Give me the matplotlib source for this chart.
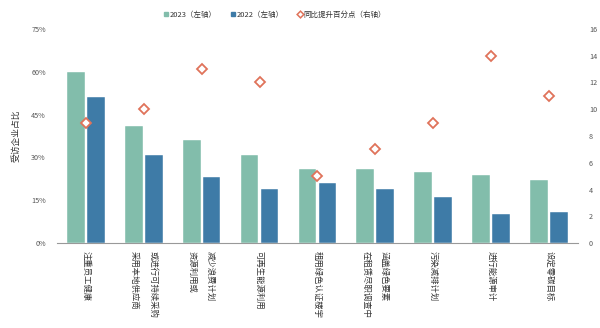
import numpy as np
import matplotlib
matplotlib.use('Agg')
import matplotlib.pyplot as plt
from matplotlib.ticker import FuncFormatter
from matplotlib.lines import Line2D

plt.rcParams['font.family'] = ['Noto Sans CJK SC', 'DejaVu Sans']

# 各类别（多行标签按行拆分）
labels = [["注重员工健康"],
          ["采用本地供应商", "或进行可持续采购"],
          ["资源利用或", "减少浪费计划"],
          ["可再生能源利用"],
          ["租用绿色认证楼宇"],
          ["在租赁尽职调查中", "涵盖绿色要素"],
          ["污染减排计划"],
          ["进行能源审计"],
          ["设定零碳目标"]]
v2023 = [60, 41, 36, 31, 26, 26, 25, 24, 22]
v2022 = [51, 31, 23, 19, 21, 19, 16, 10, 11]
diff = [9, 10, 13, 12, 5, 7, 9, 14, 11]

C23 = '#82bdab'
C22 = '#3e7ba7'
CD = '#e0735a'

fig = plt.figure(figsize=(6, 3.28), dpi=100)
ax = fig.add_axes([0.095, 0.259, 0.868, 0.653])
ax2 = ax.twinx()

x = np.arange(len(labels))
w = 0.305
ax.bar(x - 0.172, v2023, w, color=C23, edgecolor='white', linewidth=0.3, zorder=2)
ax.bar(x + 0.172, v2022, w, color=C22, edgecolor='white', linewidth=0.3, zorder=2)
ax2.plot(x, diff, linestyle='none', marker='D', markersize=5.2, markerfacecolor='white',
         markeredgecolor=CD, markeredgewidth=1.3, zorder=3)

ax.set_xlim(-0.5, len(labels) - 0.5)
ax.set_ylim(0, 75)
ax.set_yticks([0, 15, 30, 45, 60, 75])
ax.yaxis.set_major_formatter(FuncFormatter(lambda v, p: f"{int(v)}%"))
ax2.set_ylim(0, 16)
ax2.set_yticks(range(0, 17, 2))

for a in (ax, ax2):
    for s in a.spines.values():
        s.set_visible(False)
    a.tick_params(axis='y', length=0, labelsize=5.2, colors='#555555', pad=8)
ax.spines['bottom'].set_visible(True)
ax.spines['bottom'].set_color('#999999')
ax.spines['bottom'].set_linewidth(0.8)

# 竖排标签：rotation=-90 时第一行在右侧，故按行倒序拼接
ax.set_xticks(x)
ax.set_xticklabels(["\n".join(l[::-1]) for l in labels], rotation=-90, fontsize=6,
                   linespacing=2.3, va='top', ha='center', multialignment='left')
ax.tick_params(axis='x', length=0, pad=6, colors='#333333')

ax.set_ylabel("受访企业占比", fontsize=6.3, color='#333333', labelpad=8)

handles = [Line2D([], [], linestyle='none', marker='s', markersize=3.2, color=C23),
           Line2D([], [], linestyle='none', marker='s', markersize=3.2, color=C22),
           Line2D([], [], linestyle='none', marker='D', markersize=3.4, markerfacecolor='white',
                  markeredgecolor=CD, markeredgewidth=1.1)]
fig.legend(handles, ["2023（左轴）", "2022（左轴）", "同比提升百分点（右轴）"],
           loc='center', bbox_to_anchor=(0.458, 0.955), ncol=3, frameon=False,
           fontsize=5.4, handletextpad=0.15, columnspacing=1.8, handlelength=0.7,
           labelcolor='#333333')

fig.savefig('out.png', dpi=100)
